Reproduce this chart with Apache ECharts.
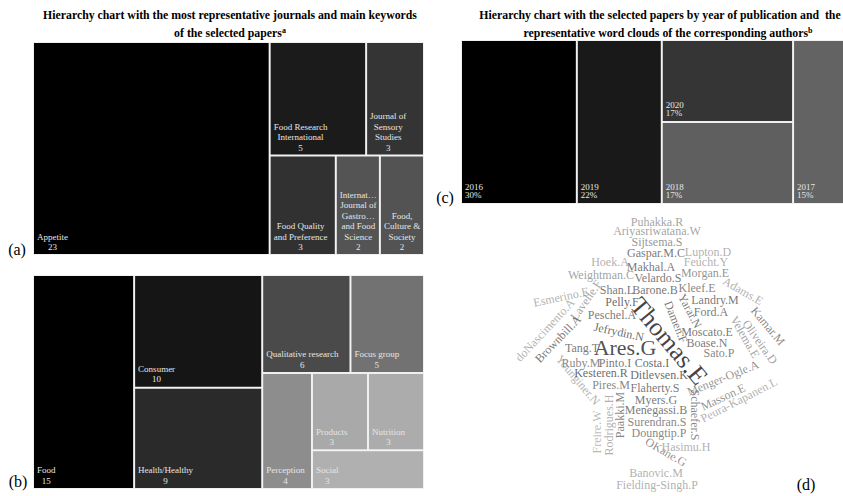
<!DOCTYPE html>
<html>
<head>
<meta charset="utf-8">
<script src="https://cdn.jsdelivr.net/npm/echarts@6/dist/echarts.min.js"></script>
<style>
html,body{margin:0;padding:0;background:#fff;}
#c{width:843px;height:496px;}
</style>
</head>
<body>
<div id="c"></div>
<script>
// ---------- (a) journals ----------
const journalNames = ['Appetite', 'Food Research\nInternational', 'Journal of\nSensory\nStudies', 'Food Quality\nand Preference', 'Internat\u2026\nJournal of\nGastro\u2026\nand Food\nScience', 'Food,\nCulture &\nSociety'];
const journalCounts = [23, 5, 3, 3, 2, 2];
const journalShades = ['#000000', '#1b1b1b', '#343434', '#313131', '#545454', '#535353'];

// ---------- (b) keywords ----------
const keywordNames = ['Food', 'Consumer', 'Health/Healthy', 'Qualitative research', 'Focus group', 'Perception', 'Products', 'Nutrition', 'Social'];
const keywordCounts = [15, 10, 9, 6, 5, 4, 3, 3, 3];
const keywordShades = ['#000000', '#151515', '#2a2a2a', '#4a4a4a', '#727272', '#8d8d8d', '#a9a9a9', '#acacac', '#b0b0b0'];

// ---------- (c) years ----------
const years = ['2016', '2019', '2020', '2018', '2017'];
const yearShares = [30, 22, 17, 17, 15];
const yearShades = ['#000000', '#191919', '#353535', '#5f5f5f', '#636363'];

// ---------- (d) author word cloud ----------
const authors = ['Puhakka.R','Ariyasriwatana.W','Sijtsema.S','Gaspar.M.C','Lupton.D','Hoek.A','Feucht.Y','Makhal.A','Weightman.C','Velardo.S','Morgan.E','Esmerino.E','Lavelle.F','doNascimento.A','Brownbill.A','Shan.L','Barone.B','Kleef.E','Adams.E','Pelly.F','Landry.M','Yarar.N','Ford.A','Peschel.A','Thomas.E','Ares.G','Jefrydin.N','Tang.T','Damen.F','Moscato.E','Boase.N','Sato.P','Velema.E','Oliveira.D','Kamar.M','Ruby.M','Pinto.I','Costa.I','Younginer.N','Kesteren.R','Ditlevsen.K','Pires.M','Flaherty.S','Menger-Ogle.A','Masson.E','Peura-Kapanen.L','Schaefer.S','Myers.G','Menegassi.B','Surendran.S','Doungtip.P','Paakki.M','Rodrigues.H','Freire.W','OKane.G','Hasimu.H','Banovic.M','Fielding-Singh.P'];
const authorWeights = [1,1,1,1,1,1,1,1,1,1,1,1,1,1,1,1,1,1,1,1,1,1,1,1,4,3,1,1,1,1,1,1,1,1,1,1,1,1,1,1,1,1,1,1,1,1,1,1,1,1,1,1,1,1,1,1,1,1];

// word placement in the cloud: [x, y, rotation]
const cloudLayout = [
  [657,222,0],[657,231,0],[657,242,0],[656,253,0],[708,252,0],[610,262,0],[706,262,0],[651,267,0],
  [601,275,0],[658,278,0],[705,273,0],[561,297,12],[586,300,55],[545,330,47],[558,339,46],[617,290,0],
  [655,290,0],[697,288,0],[743,291,-30],[622,302,0],[715,300,0],[690,311,-62],[711,312,0],[612,315,0],
  [669,341,-50],[625,347,0],[619,332,-12],[582,348,0],[676,322,-68],[707,332,0],[707,343,0],[719,353,0],
  [745,337,-60],[760,342,-55],[768,326,-50],[581,363,0],[615,363,0],[652,363,0],[578,380,-50],[601,373,0],
  [659,375,0],[611,385,0],[655,388,0],[723,378,22],[723,397,25],[739,400,27],[695,415,-90],[656,400,0],
  [656,410,0],[657,422,0],[659,433,0],[620,415,90],[609,425,90],[597,432,90],[666,452,-30],[686,447,0],
  [656,473,0],[657,485,0]
];
const cloudShades = ['#8c8c8c','#8c8c8c','#7a7a7a','#555555','#9c9c9c','#9c9c9c','#9c9c9c','#555555','#8a8a8a','#555555','#777777','#9c9c9c','#888888','#9c9c9c','#555555','#555555','#555555','#666666','#9c9c9c','#444444','#555555','#555555','#555555','#555555','#111111','#222222','#444444','#555555','#555555','#555555','#555555','#666666','#8a8a8a','#8a8a8a','#666666','#666666','#555555','#444444','#9c9c9c','#444444','#444444','#666666','#555555','#777777','#777777','#9c9c9c','#666666','#555555','#555555','#666666','#666666','#666666','#9c9c9c','#aaaaaa','#777777','#9c9c9c','#9c9c9c','#9c9c9c'];

const titleA = ['Hierarchy chart with the most representative journals and main keywords', 'of the selected papers'];
const titleC = ['Hierarchy chart with the selected papers by year of publication and  the', 'representative word clouds of the corresponding authors'];

const SERIF = "'Liberation Serif', 'Times New Roman', serif";

const panels = [
  { names: journalNames, values: journalCounts, shades: journalShades, suffix: '', box: { left: 33, top: 42, width: 391, height: 213 }, ratio: 1.25, center: true, lh: 10.5, padL: 3, padB: 1.5 },
  { names: keywordNames, values: keywordCounts, shades: keywordShades, suffix: '', box: { left: 33, top: 275, width: 391, height: 214 }, ratio: 0.8, center: true, lh: 10.5, padL: 3, padB: 2 },
  { names: years, values: yearShares, shades: yearShades, suffix: '%', box: { left: 461, top: 40, width: 390, height: 164 }, ratio: 0.9, center: false, lh: 8.5, padL: 3, padB: 3.5 }
];

const wordSize = w => 12 * Math.pow(w, 0.55);

const chart = echarts.init(document.getElementById('c'), null, { renderer: 'svg', width: 843, height: 496 });

const treemaps = panels.map(p => Object.assign({
  type: 'treemap',
  squareRatio: p.ratio,
  sort: false,
  roam: false,
  nodeClick: false,
  silent: true,
  animation: false,
  breadcrumb: { show: false },
  label: { show: false },
  upperLabel: { show: false },
  itemStyle: { borderWidth: 0, gapWidth: 0, borderColor: '#ffffff' },
  data: p.names.map((n, i) => ({
    name: n,
    value: p.values[i],
    itemStyle: { color: p.shades[i], borderWidth: 1, borderColor: '#f0f0f0' }
  }))
}, p.box));

const cloud = {
  type: 'scatter',
  xAxisIndex: 0,
  yAxisIndex: 0,
  symbolSize: 1,
  silent: true,
  animation: false,
  itemStyle: { color: 'rgba(0,0,0,0)' },
  label: { show: true, position: 'inside', formatter: '{b}', fontFamily: SERIF },
  data: authors.map((a, i) => ({
    name: a,
    value: [cloudLayout[i][0], cloudLayout[i][1]],
    label: { rotate: cloudLayout[i][2], fontSize: wordSize(authorWeights[i]), color: cloudShades[i] }
  }))
};

chart.setOption({
  backgroundColor: '#ffffff',
  animation: false,
  grid: { left: 0, right: 0, top: 0, bottom: 0, containLabel: false },
  xAxis: { type: 'value', min: 0, max: 843, show: false },
  yAxis: { type: 'value', min: 0, max: 496, inverse: true, show: false },
  series: treemaps.concat([cloud])
});

// ---- texts: titles, panel letters, cell labels placed from the treemap layout ----
const titleStyle = { fontFamily: SERIF, fontSize: 11.8, fontWeight: 'bold', fill: '#000', align: 'center', verticalAlign: 'middle' };
const supRich = { sup: { fontFamily: SERIF, fontSize: 8, fontWeight: 'bold', fill: '#000', padding: [0, 0, 6, 0] } };
const graphics = [
  { type: 'text', silent: true, x: 230, y: 15, style: Object.assign({}, titleStyle, { text: titleA[0] }) },
  { type: 'text', silent: true, x: 230, y: 33, style: Object.assign({}, titleStyle, { text: titleA[1] + '{sup|a}', rich: supRich }) },
  { type: 'text', silent: true, x: 660, y: 15, style: Object.assign({}, titleStyle, { text: titleC[0] }) },
  { type: 'text', silent: true, x: 668, y: 33, style: Object.assign({}, titleStyle, { text: titleC[1] + '{sup|b}', rich: supRich }) }
];
const letters = [['(a)', 17, 249], ['(b)', 18, 481], ['(c)', 445, 197], ['(d)', 806, 484]];
letters.forEach(l => graphics.push({ type: 'text', silent: true, x: l[1], y: l[2], style: { text: l[0], fontFamily: SERIF, fontSize: 16, fill: '#000', align: 'center', verticalAlign: 'middle' } }));

let debugMsg = '';
function getLeafRects(si, p) {
  const model = (typeof chart.getModel === 'function') ? chart.getModel() : chart._model;
  const sm = model.getSeriesByIndex(si);
  const data = sm.getData();
  const info = sm.layoutInfo || { x: p.box.left, y: p.box.top };
  let root = null;
  if (typeof sm.getViewRoot === 'function') root = sm.getViewRoot();
  if (!root && data.tree) root = data.tree.root;
  const rl = (root && root.getLayout && root.getLayout()) || { x: 0, y: 0 };
  const rects = [];
  for (let i = 0; i < p.names.length; i++) {
    let lay = null;
    if (root && root.children && root.children[i]) lay = root.children[i].getLayout();
    if (!lay) lay = data.getItemLayout(i + 1);
    rects.push({ x: info.x + rl.x + lay.x, y: info.y + rl.y + lay.y, width: lay.width, height: lay.height });
  }
  return rects;
}

panels.forEach((p, si) => {
  try {
    const rects = getLeafRects(si, p);
    rects.forEach((r, i) => {
      const bw = 1;
      const x = r.x + bw + p.padL;
      const y = r.y + r.height - bw - p.padB;
      const lines = (p.names[i] + '\n' + p.values[i] + p.suffix).split('\n');
      graphics.push({
        type: 'text', silent: true, z: 100, zlevel: 0, x: x, y: y,
        style: {
          text: lines.map(s => '{n|' + s + '}').join('\n'),
          align: 'left', verticalAlign: 'bottom',
          fontFamily: SERIF, fontSize: 9, fill: '#e6e6e6',
          rich: { n: { align: p.center ? 'center' : 'left', fontFamily: SERIF, fontSize: 9, lineHeight: p.lh, fill: '#e6e6e6' } }
        }
      });
    });
  } catch (e) { debugMsg += ' [' + si + '] ' + (e && e.message); }
});
if (debugMsg) graphics.push({ type: 'text', z: 100, x: 5, y: 262, style: { text: debugMsg.slice(0, 150), fontSize: 9, fill: '#c00' } });

chart.setOption({ graphic: graphics });
</script>
</body>
</html>
